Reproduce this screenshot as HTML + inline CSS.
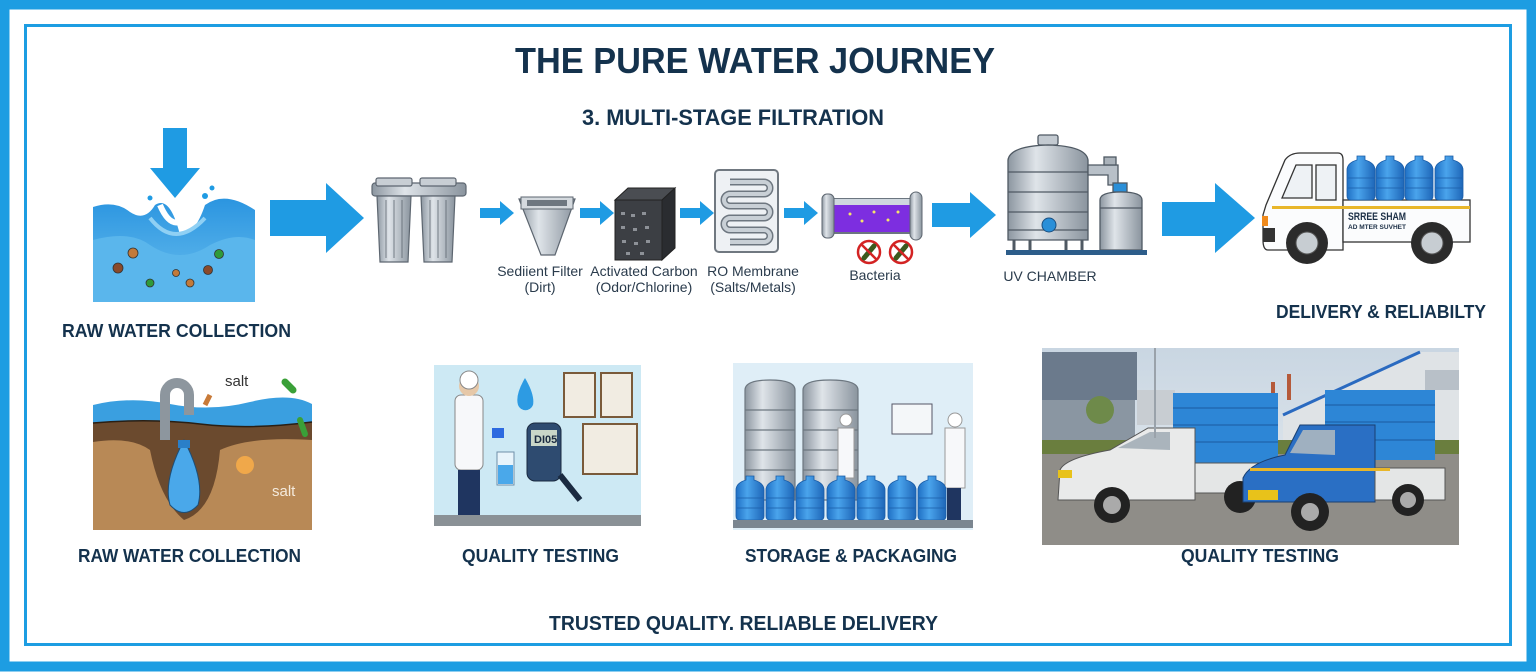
<!DOCTYPE html>
<html><head><meta charset="utf-8"><style>html,body{margin:0;padding:0;background:#fff}svg{display:block}</style></head>
<body>
<svg width="1536" height="672" viewBox="0 0 1536 672" xmlns="http://www.w3.org/2000/svg" font-family="'Liberation Sans', sans-serif">
<defs>
<linearGradient id="metal" x1="0" x2="1"><stop offset="0" stop-color="#8c96a0"/><stop offset="0.35" stop-color="#dfe4e9"/><stop offset="1" stop-color="#8a949e"/></linearGradient>
<linearGradient id="water" x1="0" y1="0" x2="0" y2="1"><stop offset="0" stop-color="#2b95e0"/><stop offset="1" stop-color="#6cc0ef"/></linearGradient>
<linearGradient id="sky" x1="0" y1="0" x2="0" y2="1"><stop offset="0" stop-color="#c9d6e2"/><stop offset="1" stop-color="#e8edf1"/></linearGradient>
<linearGradient id="bottle" x1="0" x2="1"><stop offset="0" stop-color="#1f6fc4"/><stop offset="0.4" stop-color="#4aa4ec"/><stop offset="1" stop-color="#1e66b8"/></linearGradient>
<g id="arr"><path d="M0,-5 H20 V-12 L34,0 L20,12 V5 H0 Z" fill="#1f9be3"/></g>
<g id="jug"><path d="M-4,-24 h8 v4 q10,3 10,10 v26 q0,4 -4,4 h-20 q-4,0 -4,-4 v-26 q0,-7 10,-10z" fill="url(#bottle)" stroke="#1b5ea8" stroke-width="0.8"/><path d="M-13,-2 h26 M-13,8 h26" stroke="#1b5ea8" stroke-width="0.8"/></g>
</defs>
<rect x="4.5" y="4.5" width="1527" height="662" fill="none" stroke="#1d9de2" stroke-width="10"/>
<rect x="25.5" y="25.5" width="1485" height="619" fill="none" stroke="#1d9de2" stroke-width="3"/>

<g fill="#14324d" font-weight="bold">
<text x="515" y="73" font-size="36" textLength="480" lengthAdjust="spacingAndGlyphs">THE PURE WATER JOURNEY</text>
<text x="582" y="125" font-size="22" textLength="302" lengthAdjust="spacingAndGlyphs">3. MULTI-STAGE FILTRATION</text>
<text x="62" y="337" font-size="18" textLength="229" lengthAdjust="spacingAndGlyphs">RAW WATER COLLECTION</text>
<text x="1276" y="318" font-size="18" textLength="210" lengthAdjust="spacingAndGlyphs">DELIVERY &amp; RELIABILTY</text>
<text x="78" y="562" font-size="18" textLength="223" lengthAdjust="spacingAndGlyphs">RAW WATER COLLECTION</text>
<text x="462" y="562" font-size="18" textLength="157" lengthAdjust="spacingAndGlyphs">QUALITY TESTING</text>
<text x="745" y="562" font-size="18" textLength="212" lengthAdjust="spacingAndGlyphs">STORAGE &amp; PACKAGING</text>
<text x="1181" y="562" font-size="18" textLength="158" lengthAdjust="spacingAndGlyphs">QUALITY TESTING</text>
<text x="549" y="630" font-size="20" textLength="389" lengthAdjust="spacingAndGlyphs">TRUSTED QUALITY. RELIABLE DELIVERY</text>
</g>
<g fill="#2a3b4c" font-size="14" text-anchor="middle">
<text x="540" y="276">Sediient Filter</text><text x="540" y="292">(Dirt)</text>
<text x="644" y="276">Activated Carbon</text><text x="644" y="292">(Odor/Chlorine)</text>
<text x="753" y="276">RO Membrane</text><text x="753" y="292">(Salts/Metals)</text>
<text x="875" y="280">Bacteria</text>
<text x="1050" y="281">UV CHAMBER</text>
</g>

<path d="M93,207 Q115,200 130,212 Q145,222 155,205 Q170,195 180,235 Q195,235 205,205 Q225,190 255,210 V302 H93 Z" fill="url(#water)"/>
<path d="M93,240 Q130,230 150,245 Q180,265 210,245 Q235,232 255,240 V302 H93Z" fill="#5ab6ec"/>
<path d="M150,218 Q175,250 205,218" stroke="#8fd0f4" stroke-width="4" fill="none"/>
<path d="M160,205 Q175,240 195,205" stroke="#fff" stroke-width="6" fill="none"/>
<circle cx="205" cy="196" r="3" fill="#1f9be3"/><circle cx="212" cy="188" r="2.5" fill="#1f9be3"/><circle cx="150" cy="198" r="2.5" fill="#1f9be3"/>
<path d="M163,128 H187 V168 H200 L175,198 L150,168 H163Z" fill="#1f9be3"/>
<g stroke="#333" stroke-width="0.8"><circle cx="133" cy="253" r="5" fill="#c27a3a"/><circle cx="118" cy="268" r="5" fill="#8a4a2a"/><circle cx="150" cy="283" r="4" fill="#2f9a3a"/><circle cx="176" cy="273" r="3.5" fill="#c27a3a"/><circle cx="190" cy="283" r="4" fill="#c27a3a"/><circle cx="208" cy="270" r="4.5" fill="#8a4a2a"/><circle cx="219" cy="254" r="4.5" fill="#2f9a3a"/></g>

<path d="M270,200 H326 V183 L364,218 L326,253 V236 H270Z" fill="#1f9be3"/>
<g stroke="#5d6670" stroke-width="1.2">
<rect x="372" y="183" width="94" height="13" rx="3" fill="url(#metal)"/>
<path d="M377,196 h34 l-3,66 h-28z" fill="url(#metal)"/><path d="M421,196 h34 l-3,66 h-28z" fill="url(#metal)"/>
<rect x="376" y="178" width="36" height="8" rx="2" fill="#c8ced4"/><rect x="420" y="178" width="36" height="8" rx="2" fill="#c8ced4"/>
<path d="M386,200 v58 M394,200 v58 M402,200 v58 M430,200 v58 M438,200 v58 M446,200 v58" stroke-width="0.8"/>
</g>
<use href="#arr" x="480" y="213"/><use href="#arr" x="580" y="213"/><use href="#arr" x="680" y="213"/><use href="#arr" x="784" y="213"/>
<path d="M519,199 h56 l-20,56 h-14z" fill="url(#metal)" stroke="#5d6670" stroke-width="1.2"/>
<rect x="521" y="197" width="52" height="12" fill="#d4d9de" stroke="#5d6670"/><rect x="527" y="200" width="40" height="6" fill="#6e7780"/>
<path d="M615,200 l13,-12 h47 l-13,12z" fill="#4a4d52" stroke="#222"/>
<rect x="615" y="200" width="47" height="60" fill="#3c3f44" stroke="#222"/><path d="M662,200 l13,-12 v60 l-13,12z" fill="#2a2c30" stroke="#222"/>
<g fill="#8d9197"><rect x="621" y="212" width="4" height="3"/><rect x="631" y="214" width="4" height="3"/><rect x="642" y="212" width="4" height="3"/><rect x="621" y="226" width="4" height="3"/><rect x="633" y="228" width="4" height="3"/><rect x="645" y="226" width="4" height="3"/><rect x="622" y="240" width="4" height="3"/><rect x="634" y="242" width="4" height="3"/><rect x="646" y="240" width="4" height="3"/><rect x="626" y="252" width="4" height="3"/><rect x="640" y="252" width="4" height="3"/></g>
<rect x="715" y="170" width="63" height="82" rx="4" fill="#eef1f4" stroke="#707880" stroke-width="2"/>
<path d="M730,182 h34 a6,6 0 0 1 0,12 h-34 a6,6 0 0 0 0,12 h34 a6,6 0 0 1 0,12 h-34 a6,6 0 0 0 0,12 h34 a6,6 0 0 1 0,12 h-34" fill="none" stroke="#6e7780" stroke-width="7"/>
<path d="M730,182 h34 a6,6 0 0 1 0,12 h-34 a6,6 0 0 0 0,12 h34 a6,6 0 0 1 0,12 h-34 a6,6 0 0 0 0,12 h34 a6,6 0 0 1 0,12 h-34" fill="none" stroke="#c9d0d6" stroke-width="4"/>
<rect x="831" y="199" width="80" height="34" fill="#7d2ee0" stroke="#6c7680" stroke-width="2"/>
<rect x="831" y="199" width="80" height="6" fill="#cfd7df"/>
<rect x="822" y="194" width="12" height="44" rx="5" fill="url(#metal)" stroke="#5d6670"/><rect x="910" y="192" width="12" height="48" rx="6" fill="url(#metal)" stroke="#5d6670"/>
<g fill="#f5e66a"><circle cx="850" cy="214" r="1.5"/><circle cx="862" cy="221" r="1.5"/><circle cx="874" cy="212" r="1.5"/><circle cx="888" cy="220" r="1.5"/><circle cx="898" cy="212" r="1.5"/></g>
<g stroke="#d32323" stroke-width="2.5" fill="#fff"><circle cx="869" cy="252" r="11"/><circle cx="901" cy="252" r="11"/></g>
<g stroke="#3b5a1e" stroke-width="5" stroke-linecap="round"><path d="M864,258 l10,-12"/><path d="M896,258 l10,-12"/></g>
<g stroke="#d32323" stroke-width="2.5"><path d="M861,244 l16,16"/><path d="M893,244 l16,16"/></g>
<path d="M932,203 H970 V192 L996,215 L970,238 V227 H932Z" fill="#1f9be3"/>
<g stroke="#4f5963" stroke-width="1.3">
<rect x="1038" y="135" width="20" height="10" rx="2" fill="#c3cad1"/>
<path d="M1008,160 Q1010,146 1048,145 Q1086,146 1088,160 V240 H1008Z" fill="url(#metal)"/>
<path d="M1008,172 h80 M1008,192 h80 M1008,212 h80 M1008,230 h80" fill="none"/>
<path d="M1088,165 h30 v20 h-10 v-10 h-20z" fill="#b8c0c8"/>
<rect x="1104" y="157" width="12" height="8" fill="#aab2ba"/>
<rect x="1113" y="183" width="14" height="9" fill="#2a8fd8"/>
<path d="M1100,200 Q1100,192 1121,192 Q1142,192 1142,200 V250 H1100Z" fill="url(#metal)"/>
<path d="M1100,208 h42" fill="none"/>
<path d="M1014,240 v10 M1030,240 v10 M1066,240 v10 M1082,240 v10" fill="none" stroke-width="3"/>
</g>
<rect x="1006" y="250" width="141" height="5" fill="#2d5d8a"/>
<circle cx="1049" cy="225" r="7" fill="#2a8fd8" stroke="#1b4f80"/>
<path d="M1162,202 H1215 V183 L1255,218 L1215,253 V236 H1162Z" fill="#1f9be3"/>
<g stroke="#333" stroke-width="1.3">
<path d="M1266,205 L1285,160 Q1290,153 1300,153 H1338 Q1343,153 1343,160 V250 H1268 Q1263,250 1263,240 V215Z" fill="#fbfcfd"/>
<path d="M1282,198 L1296,165 H1312 V198Z" fill="#eef2f5"/>
<rect x="1316" y="165" width="20" height="35" fill="#eef2f5"/>
<rect x="1343" y="200" width="127" height="42" fill="#fbfcfd"/>
</g>
<rect x="1272" y="206" width="198" height="3" fill="#e8b62a"/>
<use href="#jug" x="1361" y="180"/><use href="#jug" x="1390" y="180"/><use href="#jug" x="1419" y="180"/><use href="#jug" x="1449" y="180"/>
<text x="1348" y="220" font-size="11" font-weight="bold" fill="#1c2f46" textLength="58" lengthAdjust="spacingAndGlyphs">SRREE SHAM</text>
<text x="1348" y="229" font-size="6.5" font-weight="bold" fill="#1c2f46" textLength="58" lengthAdjust="spacingAndGlyphs">AD MTER SUVHET</text>
<rect x="1263" y="228" width="12" height="14" fill="#333"/>
<g><circle cx="1307" cy="243" r="21" fill="#2b2b2b"/><circle cx="1307" cy="243" r="11" fill="#c7cdd2" stroke="#555"/><circle cx="1432" cy="243" r="21" fill="#2b2b2b"/><circle cx="1432" cy="243" r="11" fill="#c7cdd2" stroke="#555"/></g>
<rect x="1262" y="216" width="6" height="10" fill="#f08a1c"/>

<rect x="93" y="370" width="219" height="160" fill="#fff"/>
<path d="M93,405 Q130,396 170,404 T250,402 T312,404 V530 H93Z" fill="#3a9fe0"/>
<path d="M93,423 Q150,418 200,424 T312,422 V530 H93Z" fill="#6b4a2e"/>
<path d="M93,442 Q130,436 150,450 Q160,500 184,520 Q215,510 220,450 Q250,436 312,440 V530 H93Z" fill="#b88956"/>
<path d="M93,423 Q150,418 200,424 T312,422" fill="none" stroke="#2a1f14" stroke-width="1.5"/>
<path d="M165,440 v-45 a12,12 0 0 1 24,0 v20" fill="none" stroke="#8d969e" stroke-width="10"/>
<path d="M184,440 Q205,480 198,505 Q184,520 170,505 Q163,480 184,440Z" fill="#4aa8ea" stroke="#1c4e78"/>
<rect x="178" y="440" width="12" height="8" fill="#2a7fc8"/>
<circle cx="245" cy="465" r="9" fill="#f0a84a"/>
<path d="M285,382 l8,8" stroke="#3aa038" stroke-width="7" stroke-linecap="round"/>
<path d="M300,420 l5,14" stroke="#3aa038" stroke-width="6" stroke-linecap="round"/>
<path d="M205,405 l5,-10" stroke="#c87a38" stroke-width="5"/>
<text x="225" y="386" font-size="15" fill="#333">salt</text>
<text x="272" y="496" font-size="15" fill="#f4eadc">salt</text>

<rect x="434" y="365" width="207" height="161" fill="#cde9f4"/>
<rect x="434" y="515" width="207" height="11" fill="#8a9196"/>
<path d="M525,378 Q515,395 518,405 a8,8 0 0 0 15,0 Q535,395 525,378Z" fill="#2d9be3"/>
<rect x="564" y="373" width="31" height="44" fill="#f1ece2" stroke="#7a5a3a" stroke-width="2"/>
<rect x="601" y="373" width="31" height="44" fill="#f1ece2" stroke="#7a5a3a" stroke-width="2"/>
<rect x="583" y="424" width="54" height="50" fill="#f1ece2" stroke="#7a5a3a" stroke-width="2"/>
<rect x="527" y="423" width="34" height="58" rx="8" fill="#2e4b70" stroke="#1a2a40"/>
<rect x="531" y="430" width="26" height="16" fill="#c9d6c8"/>
<text x="534" y="443" font-size="11" fill="#1a2a40" font-weight="bold">DI05</text>
<path d="M560,475 l20,25" stroke="#1a2a40" stroke-width="6"/>
<rect x="497" y="452" width="17" height="33" fill="#e8f4fb" stroke="#6f8fa8"/><rect x="498" y="465" width="15" height="19" fill="#4aa8ea"/>
<rect x="455" y="395" width="28" height="75" rx="6" fill="#f7f8fa" stroke="#888"/>
<circle cx="469" cy="386" r="10" fill="#e6c8a8"/><circle cx="469" cy="380" r="9" fill="#fff" stroke="#888"/>
<rect x="458" y="470" width="22" height="45" fill="#1f3560"/>
<rect x="492" y="428" width="12" height="10" fill="#2d6ae0"/>

<rect x="733" y="363" width="240" height="167" fill="#dfeef7"/>
<g stroke="#6d7780" stroke-width="1.2">
<path d="M745,390 Q745,380 770,380 Q795,380 795,390 V500 H745Z" fill="url(#metal)"/>
<path d="M803,390 Q803,380 830,380 Q858,380 858,390 V500 H803Z" fill="url(#metal)"/>
<path d="M745,410 h50 M745,430 h50 M745,450 h50 M745,470 h50 M803,410 h55 M803,430 h55 M803,450 h55 M803,470 h55" fill="none"/>
</g>
<rect x="892" y="404" width="40" height="30" fill="#f4f7f9" stroke="#556"/>
<rect x="838" y="428" width="16" height="50" fill="#f7f8fa" stroke="#999"/><circle cx="846" cy="420" r="6" fill="#fff" stroke="#999"/>
<rect x="945" y="428" width="20" height="60" fill="#f7f8fa" stroke="#999"/><circle cx="955" cy="420" r="7" fill="#fff" stroke="#999"/>
<rect x="947" y="488" width="14" height="36" fill="#1f3560"/>
<g><use href="#jug" x="750" y="500"/><use href="#jug" x="780" y="500"/><use href="#jug" x="810" y="500"/><use href="#jug" x="841" y="500"/><use href="#jug" x="871" y="500"/><use href="#jug" x="902" y="500"/><use href="#jug" x="932" y="500"/></g>
<rect x="733" y="520" width="240" height="8" fill="#7b8690"/>

<!-- photo -->
<rect x="1042" y="348" width="417" height="197" fill="url(#sky)"/>
<path d="M1042,352 H1137 V400 H1042Z" fill="#6b7a8c"/>
<path d="M1042,400 H1135 V445 H1042Z" fill="#8a96a2"/>
<path d="M1137,390 H1175 V425 H1137Z" fill="#c8cdd2"/>
<path d="M1283,415 L1420,352 H1459 V445 H1283Z" fill="#dfe3e6"/>
<path d="M1283,415 L1420,352" stroke="#2a6ac0" stroke-width="3"/>
<rect x="1425" y="370" width="34" height="20" fill="#b8c0c8"/>
<circle cx="1100" cy="410" r="14" fill="#6e8a4a"/>
<rect x="1042" y="440" width="417" height="14" fill="#6a7e3e"/>
<rect x="1042" y="454" width="417" height="91" fill="#8f8d88"/>
<rect x="1271" y="382" width="4" height="20" fill="#b55a3a"/><rect x="1287" y="374" width="4" height="26" fill="#b55a3a"/>
<rect x="1173" y="393" width="105" height="72" fill="#2d86d6"/>
<rect x="1325" y="390" width="110" height="70" fill="#2d86d6"/>
<g stroke="#1a5aa0" stroke-width="1"><path d="M1173,408 h105 M1173,425 h105 M1173,442 h105 M1325,405 h110 M1325,422 h110 M1325,440 h110"/></g>
<path d="M1060,470 Q1065,458 1110,450 L1148,428 H1195 V500 H1058Z" fill="#e9eaea" stroke="#555"/>
<path d="M1118,448 L1150,432 H1170 V450Z" fill="#aab4bc"/>
<rect x="1195" y="463" width="90" height="30" fill="#e4e6e6" stroke="#555"/>
<circle cx="1112" cy="505" r="18" fill="#222"/><circle cx="1112" cy="505" r="9" fill="#aaa"/>
<circle cx="1240" cy="497" r="16" fill="#222"/>
<path d="M1243,478 Q1250,462 1285,455 L1300,425 H1375 V502 H1243Z" fill="#2a6fc4" stroke="#1a3f70"/>
<path d="M1290,453 L1303,430 H1335 V455Z" fill="#9fb0c0"/>
<rect x="1375" y="468" width="70" height="32" fill="#e4e6e6" stroke="#555"/>
<rect x="1250" y="468" width="140" height="3" fill="#e8b62a"/>
<rect x="1248" y="490" width="30" height="10" fill="#e8c21a"/>
<circle cx="1310" cy="512" r="19" fill="#222"/><circle cx="1310" cy="512" r="9" fill="#aaa"/>
<circle cx="1408" cy="500" r="16" fill="#222"/><circle cx="1408" cy="500" r="8" fill="#aaa"/>
<rect x="1058" y="470" width="14" height="8" fill="#e8c21a"/>
<rect x="1154" y="348" width="2" height="90" fill="#9aa2aa"/>
</svg>
</body></html>
